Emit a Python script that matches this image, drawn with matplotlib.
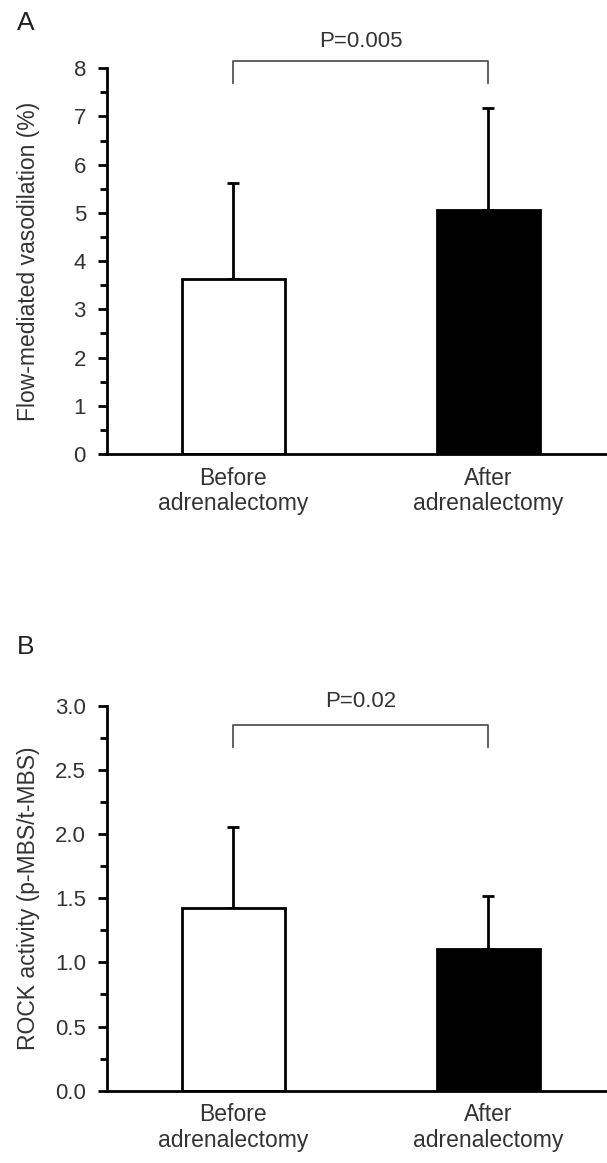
import matplotlib
matplotlib.use("Agg")
import matplotlib.pyplot as plt
from matplotlib.ticker import MultipleLocator

plt.rcParams["font.family"] = ["Liberation Sans", "DejaVu Sans"]

groups = ["Before\nadrenalectomy", "After\nadrenalectomy"]

# panel A: flow-mediated vasodilation (%)
fmd_mean = [3.64, 5.06]
fmd_sd = [1.99, 2.12]
fmd_p = "P=0.005"

# panel B: ROCK activity
rock_mean = [1.42, 1.107]
rock_sd = [0.635, 0.412]
rock_p = "P=0.02"

txt = "#333333"
fig = plt.figure(figsize=(6.07, 11.63), dpi=100)


def panel(rect, means, sds, ylim, major, minor, ylabel, ptext, br_top, br_leg, p_y, letter, letter_y):
    ax = fig.add_axes(rect)
    x = [0, 1]
    ax.bar(x, means, width=0.405, color=["white", "black"], edgecolor="black",
           linewidth=2.0, zorder=2)
    ax.errorbar(x, means, yerr=[[0, 0], sds], fmt="none", ecolor="black",
                elinewidth=2.0, capsize=4, capthick=2.0, zorder=1)
    ax.set_xlim(-0.493, 1.465)
    ax.set_ylim(*ylim)
    ax.yaxis.set_major_locator(MultipleLocator(major))
    ax.yaxis.set_minor_locator(MultipleLocator(minor))
    ax.set_xticks(x)
    ax.set_xticklabels(groups, fontsize=16.5, color=txt, linespacing=1.15)
    ax.tick_params(axis="x", length=0, pad=9)
    ax.tick_params(axis="y", which="major", direction="out", length=6.5, width=2,
                   labelsize=16, labelcolor=txt, pad=9)
    ax.tick_params(axis="y", which="minor", direction="out", length=5, width=2)
    for s in ["top", "right"]:
        ax.spines[s].set_visible(False)
    for s in ["left", "bottom"]:
        ax.spines[s].set_linewidth(2)
    ax.set_ylabel(ylabel, fontsize=16.5, color=txt)
    ax.yaxis.set_label_coords(-0.135, 0.5)

    # significance bracket
    ax.plot([0, 0, 1, 1], [br_leg, br_top, br_top, br_leg], color="#555555",
            linewidth=1.3, clip_on=False, zorder=3)
    ax.text(0.5, p_y, ptext, ha="center", va="baseline", fontsize=16, color=txt)
    fig.text(17 / 607, letter_y, letter, fontsize=19, color="#222222", va="baseline")
    return ax


panel([0.1771, 0.6096, 0.8229, 0.3317], fmd_mean, fmd_sd, (0, 8), 1, 0.5,
      "Flow-mediated vasodilation (%)", fmd_p, 8.15, 7.69, 8.45, "A", 1 - 30 / 1163)
panel([0.1771, 0.0622, 0.8229, 0.3310], rock_mean, rock_sd, (0, 3.0), 0.5, 0.25,
      "ROCK activity (p-MBS/t-MBS)", rock_p, 2.846, 2.676, 2.987, "B", 1 - 654 / 1163)

fig.savefig("out.png", dpi=100)
